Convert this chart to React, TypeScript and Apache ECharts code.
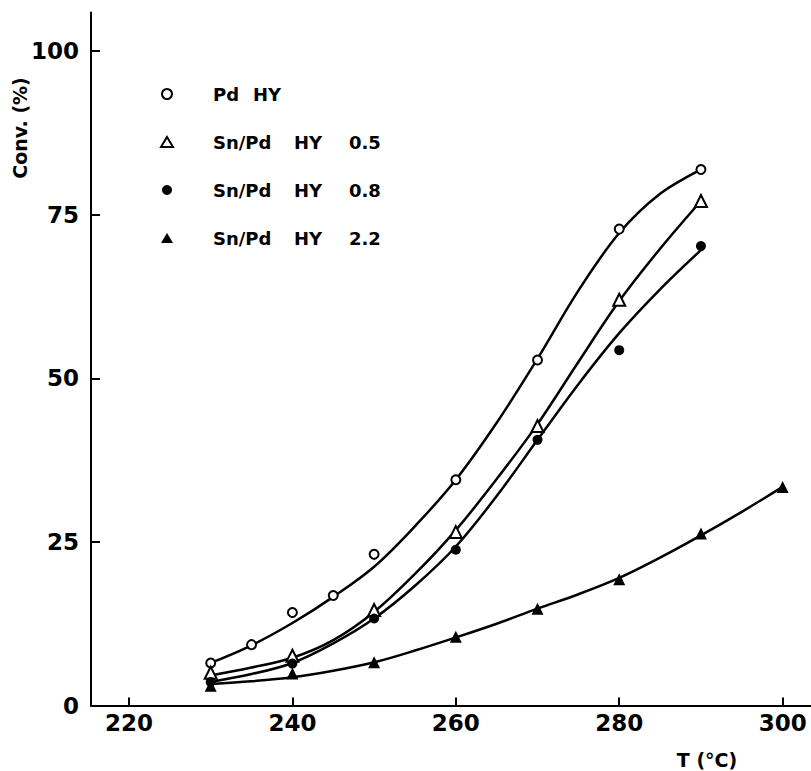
import React, { useEffect, useRef } from "react";
import * as echarts from "echarts";

// ---- data ----
const seriesNames = ["Pd HY", "Sn/Pd HY 0.5", "Sn/Pd HY 0.8", "Sn/Pd HY 2.2"];

// measured points
const tempsPdHY = [230, 235, 240, 245, 250, 260, 270, 280, 290];
const convPdHY = [6.5, 9.3, 14.2, 16.8, 23.1, 34.5, 52.8, 72.8, 81.9];
const tempsSn = [230, 240, 250, 260, 270, 280, 290];
const convSn05 = [5.0, 7.6, 14.6, 26.5, 42.7, 62.0, 77.1];
const convSn08 = [3.6, 6.4, 13.3, 23.8, 40.6, 54.3, 70.2];
const tempsSn22 = [230, 240, 250, 260, 270, 280, 290, 300];
const convSn22 = [3.0, 4.9, 6.6, 10.5, 14.8, 19.3, 26.3, 33.4];

// hand-drawn fitted curves
const curveTemps = [230, 235, 240, 245, 250, 255, 260, 265, 270, 275, 280, 285, 290];
const curvePdHY = [6.5, 9.2, 12.6, 16.6, 21.2, 27.4, 34.5, 43.2, 53.0, 63.4, 72.2, 78.2, 81.9];
const curveSn05 = [4.6, 5.8, 7.3, 10.0, 14.3, 20.1, 26.8, 34.6, 43.0, 52.5, 61.8, 69.8, 77.1];
const curveSn08 = [3.6, 4.8, 6.5, 9.5, 13.3, 18.3, 24.3, 32.0, 40.6, 49.1, 56.9, 63.6, 69.6];
const curveTemps22 = [230, 235, 240, 245, 250, 255, 260, 265, 270, 275, 280, 285, 290, 295, 300];
const curveSn22 = [3.3, 3.7, 4.3, 5.3, 6.6, 8.4, 10.4, 12.5, 14.8, 17.0, 19.5, 22.6, 26.0, 29.6, 33.4];

const xTicks = [220, 240, 260, 280, 300];
const yTicks = [0, 25, 50, 75, 100];

const FONT = '"DejaVu Sans", "Liberation Sans", sans-serif';

const zip = (xs: number[], ys: number[]) => xs.map((x, i) => [x, ys[i]]);

const markerStyles = [
  { symbol: "circle", size: 9, item: { color: "#fff", borderColor: "#000", borderWidth: 2, opacity: 1 } },
  { symbol: "triangle", size: 12, item: { color: "#fff", borderColor: "#000", borderWidth: 2, opacity: 1 } },
  { symbol: "circle", size: 10, item: { color: "#000", borderColor: "#000", borderWidth: 0, opacity: 1 } },
  { symbol: "triangle", size: 12, item: { color: "#000", borderColor: "#000", borderWidth: 0, opacity: 1 } },
];

export default function App() {
  const ref = useRef<HTMLDivElement>(null);

  useEffect(() => {
    if (!ref.current) return;
    const chart = echarts.init(ref.current, undefined, { renderer: "svg" });

    const pointSets = [
      zip(tempsPdHY, convPdHY),
      zip(tempsSn, convSn05),
      zip(tempsSn, convSn08),
      zip(tempsSn22, convSn22),
    ];
    const curveSets = [
      zip(curveTemps, curvePdHY),
      zip(curveTemps, curveSn05),
      zip(curveTemps, curveSn08),
      zip(curveTemps22, curveSn22),
    ];

    const lineSeries = curveSets.map((d, i) => ({
      type: "line",
      name: seriesNames[i] + " curve",
      data: d,
      smooth: 0.35,
      symbol: "none",
      lineStyle: { color: "#000", width: 2.5 },
      z: 2,
    }));
    const scatterSeries = pointSets.map((d, i) => ({
      type: "scatter",
      name: seriesNames[i],
      data: d,
      symbol: markerStyles[i].symbol,
      symbolSize: markerStyles[i].size,
      itemStyle: markerStyles[i].item,
      z: 5,
    }));

    const richBase = { fontFamily: FONT, fontWeight: "bold", fontSize: 18, color: "#000", lineHeight: 20 };

    chart.setOption({
      animation: false,
      backgroundColor: "#fff",
      grid: { left: 91, right: 0, top: 12.5, bottom: 65.5, containLabel: false },
      legend: {
        orient: "vertical",
        left: 160,
        top: 84,
        padding: 0,
        itemWidth: 12,
        itemHeight: 10,
        itemGap: 28,
        selectedMode: false,
        data: seriesNames.map((n, i) => ({
          name: n,
          icon: markerStyles[i].symbol,
          itemStyle: markerStyles[i].item,
        })),
        formatter: (name: string) => {
          const parts = name.split(" ");
          if (parts.length === 2) return `{p|${parts[0]} }{t|${parts[1]}}`;
          return `{s|${parts[0]} }{h|${parts[1]} }{t|${parts[2]}}`;
        },
        textStyle: {
          ...richBase,
          rich: {
            p: { ...richBase, width: 40, padding: [0, 0, 0, 35] },
            s: { ...richBase, width: 81, padding: [0, 0, 0, 35] },
            h: { ...richBase, width: 55 },
            t: { ...richBase },
          },
        },
      },
      xAxis: {
        type: "value",
        min: 215.35,
        max: 303.47,
        axisLine: { show: true, lineStyle: { color: "#000", width: 2 } },
        axisTick: { show: true, inside: true, length: 8, lineStyle: { color: "#000", width: 2 }, customValues: xTicks },
        axisLabel: {
          customValues: xTicks,
          color: "#000",
          fontFamily: FONT,
          fontWeight: "bold",
          fontSize: 23,
          margin: 6,
        },
        splitLine: { show: false },
      },
      yAxis: {
        type: "value",
        min: 0,
        max: 105.9,
        axisLine: { show: true, lineStyle: { color: "#000", width: 2 } },
        axisTick: { show: true, inside: true, length: 9, lineStyle: { color: "#000", width: 2 }, customValues: yTicks },
        axisLabel: {
          customValues: yTicks,
          color: "#000",
          fontFamily: FONT,
          fontWeight: "bold",
          fontSize: 23,
          margin: 12,
        },
        splitLine: { show: false },
      },
      graphic: [
        {
          type: "text",
          x: 20,
          y: 128,
          rotation: Math.PI / 2,
          style: {
            text: "Conv. (%)",
            align: "center",
            verticalAlign: "middle",
            fontFamily: FONT,
            fontWeight: "bold",
            fontSize: 19,
            fill: "#000",
          },
        },
        {
          type: "text",
          x: 707,
          y: 760,
          style: {
            text: "T (°C)",
            align: "center",
            verticalAlign: "middle",
            fontFamily: FONT,
            fontWeight: "bold",
            fontSize: 19,
            fill: "#000",
          },
        },
      ],
      series: [...lineSeries, ...scatterSeries],
    });

    return () => chart.dispose();
  }, []);

  return (
    <div
      ref={ref}
      style={{ position: "fixed", left: 0, top: 0, width: 811, height: 771, background: "#fff" }}
    />
  );
}
